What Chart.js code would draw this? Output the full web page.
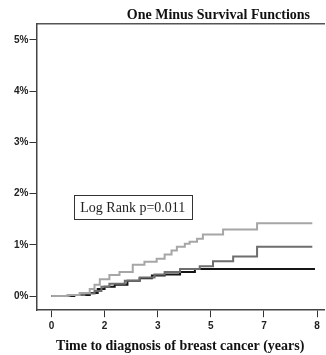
<!DOCTYPE html>
<html>
<head>
<meta charset="utf-8">
<script src="https://cdn.jsdelivr.net/npm/chart.js@4/dist/chart.umd.min.js"></script>
<style>
html,body{margin:0;padding:0;background:#fff;}
#wrap{width:326px;height:355px;position:relative;}
</style>
</head>
<body>
<div id="wrap"><canvas id="c" width="326" height="355"></canvas></div>
<script>
// Tick labels of the x axis (equally spaced positions, index = axis unit)
const xTickLabels = ['0', '2', '3', '5', '7', '8'];
const yTickValues = [0, 1, 2, 3, 4, 5];

// Group 1 (light gray) – x in axis units, y in percent
const lightX = [0, 0.30, 0.53, 0.72, 0.81, 0.91, 1.09, 1.28, 1.53, 1.75, 1.98, 2.13, 2.26, 2.36, 2.51, 2.60, 2.74, 2.85, 3.23, 3.87, 4.91];
const lightY = [0, 0.02, 0.06, 0.14, 0.22, 0.33, 0.41, 0.47, 0.61, 0.67, 0.73, 0.81, 0.89, 0.96, 1.02, 1.06, 1.12, 1.20, 1.30, 1.42, 1.42];

// Group 2 (mid gray)
const midX = [0, 0.34, 0.62, 0.81, 0.94, 1.09, 1.38, 1.66, 1.94, 2.13, 2.42, 2.79, 3.04, 3.42, 3.87, 4.91];
const midY = [0, 0.02, 0.05, 0.10, 0.18, 0.24, 0.30, 0.36, 0.42, 0.47, 0.53, 0.58, 0.68, 0.77, 0.96, 0.96];

// Group 3 (black)
const blackX = [0, 0.43, 0.72, 0.87, 1.00, 1.19, 1.43, 1.66, 1.89, 2.13, 2.42, 2.70, 4.96];
const blackY = [0, 0.02, 0.06, 0.14, 0.18, 0.22, 0.30, 0.35, 0.40, 0.42, 0.47, 0.53, 0.53];

const titleText = 'One Minus Survival Functions';
const xTitle = 'Time to diagnosis of breast cancer (years)';
const annotationText = 'Log Rank p=0.011';

const toPts = (xs, ys) => xs.map((x, i) => ({x: x, y: ys[i]}));

const serif = '"Liberation Serif", "Times New Roman", serif';
const sans = '"Liberation Sans", Arial, sans-serif';

const overlay = {
  id: 'overlay',
  afterDraw(chart) {
    const ctx = chart.ctx;
    const a = chart.chartArea;
    ctx.save();
    // title
    ctx.font = 'bold 14px ' + serif;
    ctx.fillStyle = '#111';
    ctx.textAlign = 'right';
    ctx.textBaseline = 'middle';
    ctx.fillText(titleText, a.right - 14, 15);
    // annotation box
    const xs = chart.scales.x, ys = chart.scales.y;
    const bx = xs.getPixelForValue(0.42), by = ys.getPixelForValue(1.97);
    ctx.font = '14px ' + serif;
    const w = 118, h = 24;
    ctx.fillStyle = '#fff';
    ctx.fillRect(bx, by, w, h);
    ctx.strokeStyle = '#333';
    ctx.lineWidth = 1;
    ctx.strokeRect(Math.round(bx) + 0.5, Math.round(by) + 0.5, w, h);
    ctx.fillStyle = '#222';
    ctx.textAlign = 'center';
    ctx.fillText(annotationText, bx + w / 2, by + h / 2 + 1);
    ctx.restore();
  }
};

const ds = (label, xs, ys, color, width) => ({
  label: label, data: toPts(xs, ys), borderColor: color, backgroundColor: color,
  borderWidth: width, stepped: 'before', pointRadius: 0, fill: false, tension: 0
});

new Chart(document.getElementById('c'), {
  type: 'line',
  data: {
    datasets: [
      ds('Group 1', lightX, lightY, '#a6a6a6', 2),
      ds('Group 2', midX, midY, '#6e6e6e', 2),
      ds('Group 3', blackX, blackY, '#151515', 2)
    ]
  },
  options: {
    responsive: false,
    animation: false,
    events: [],
    layout: {padding: {left: 13, top: 24, right: 2, bottom: 0}},
    plugins: {legend: {display: false}, tooltip: {enabled: false}, title: {display: false}},
    scales: {
      x: {
        type: 'linear', min: -0.283, max: 5.13,
        afterBuildTicks: s => { s.ticks = xTickLabels.map((_, i) => ({value: i})); },
        ticks: {callback: v => xTickLabels[v], color: '#222', font: {family: sans, size: 10, weight: 'bold'}, padding: 3, maxRotation: 0, autoSkip: false},
        grid: {drawOnChartArea: false, drawTicks: true, tickLength: 7, color: '#333', lineWidth: 1},
        border: {display: true, color: '#444', width: 1.5},
        title: {display: true, text: xTitle, color: '#111', font: {family: serif, size: 14, weight: 'bold'}, padding: {top: 3, bottom: 0}}
      },
      x2: {
        type: 'linear', position: 'top', min: -0.283, max: 5.13,
        ticks: {display: false},
        grid: {display: false, drawTicks: false},
        border: {display: true, color: '#555', width: 1.5}
      },
      y: {
        type: 'linear', min: -0.276, max: 5.31,
        afterBuildTicks: s => { s.ticks = yTickValues.map(v => ({value: v})); },
        ticks: {callback: v => v + '%', color: '#222', font: {family: sans, size: 10, weight: 'bold'}, padding: 1},
        grid: {drawOnChartArea: false, drawTicks: true, tickLength: 7, color: '#333', lineWidth: 1},
        border: {display: true, color: '#444', width: 1.5}
      }
    }
  },
  plugins: [overlay]
});
</script>
</body>
</html>
